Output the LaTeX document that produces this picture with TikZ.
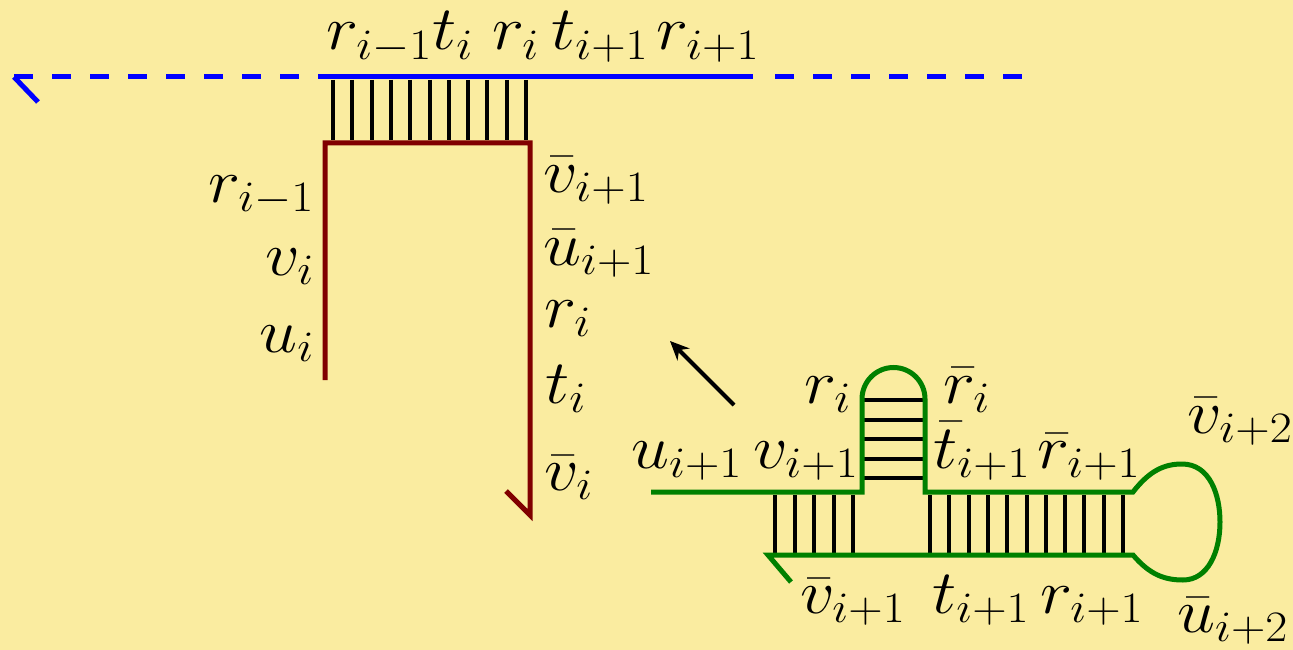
\RequirePackage{fix-cm}
\documentclass[tikz,border=0pt]{standalone}
\usepackage{graphicx}
\usetikzlibrary{arrows.meta}
\definecolor{bg}{RGB}{250,236,160}
\definecolor{dred}{RGB}{128,0,0}
\definecolor{dgreen}{RGB}{0,128,0}
\newcommand{\wm}[1]{\scalebox{1.1}[1]{$#1$}}
\begin{document}
\begin{tikzpicture}[x=1pt,y=-1pt,
  lab/.style={inner sep=0pt, font=\fontsize{62}{66}\selectfont},
  lw/.style={lab, anchor=base west},
  le/.style={lab, anchor=base east},
  bluestrand/.style={draw=blue, line width=5pt},
  redstrand/.style={draw=dred, line width=5pt},
  greenstrand/.style={draw=dgreen, line width=5pt},
  rung/.style={draw=black, line width=4pt},
  pointer/.style={draw=black, line width=4pt, -{Stealth[length=19pt,width=17pt]}}]
\fill[bg] (0,0) rectangle (1293,650);
\useasboundingbox (0,0) rectangle (1293,650);

% blue strand
\draw[bluestrand, dash pattern=on 19pt off 19pt] (14,77) -- (318,77);
\draw[bluestrand] (14,77) -- (38,102);
\draw[bluestrand] (318,77) -- (753,77);
\draw[bluestrand, dash pattern=on 19pt off 19pt] (775,77) -- (1025,77);

% top rungs
\foreach \i in {0,...,10} \draw[rung] ({333+19.3*\i},80) -- ({333+19.3*\i},140);

% red strand
\draw[redstrand] (325,380) -- (325,143) -- (530,143) -- (530,515) -- (506,491);

% top labels
\node[lw] (t1) at (326,50) {\wm{r_{i-1}}};
\node[lw] (t2) at (432,50) {\wm{t_i}};
\node[lw] (t3) at (492,50) {\wm{r_i}};
\node[lw] (t4) at (551,50) {\wm{t_{i+1}}};
\node[lw] (t5) at (656,50) {\wm{r_{i+1}}};

% left labels
\node[le] (l1) at (314,202) {\wm{r_{i-1}}};
\node[le] (l2) at (314,275) {\wm{v_i}};
\node[le] (l3) at (314,352) {\wm{u_i}};

% right labels
\node[lw] (r1) at (543,192) {\wm{\bar v_{i+1}}};
\node[lw] (r2) at (543,265) {\wm{\bar u_{i+1}}};
\node[lw] (r3) at (544,327) {\wm{r_i}};
\node[lw] (r4) at (545,403) {\wm{t_i}};
\node[lw] (r5) at (544,490) {\wm{\bar v_i}};

% arrow
\coordinate (a1) at (734,405);
\coordinate (a2) at (670,341);
\draw[pointer] (a1) -- (a2);

% green rungs
\foreach \i in {0,...,4} \draw[rung] ({775+19.5*\i},495) -- ({775+19.5*\i},553);
\foreach \i in {0,...,10} \draw[rung] ({930+19.3*\i},495) -- ({930+19.3*\i},553);
\foreach \i in {0,...,4} \draw[rung] (864,{400+19.5*\i}) -- (923,{400+19.5*\i});

% green strand
\draw[greenstrand] (651,492) -- (862,492) -- (862,399) arc (180:360:31.5) -- (925,492) -- (1133,492)
  .. controls (1150,470) and (1165,464) .. (1182,464)
  .. controls (1210,464) and (1220,495) .. (1220,522)
  .. controls (1220,552) and (1208,580) .. (1183,580)
  .. controls (1165,580) and (1150,575) .. (1133,555)
  -- (768,555) -- (791,582);

% green labels
\node[lw] (g1) at (631,468) {\wm{u_{i+1}}};
\node[lw] (g2) at (753,468) {\wm{v_{i+1}}};
\node[lw] (g3) at (804,403) {\wm{r_i}};
\node[lw] (g4) at (943,403) {\wm{\bar r_i}};
\node[lw] (g5) at (933,468) {\wm{\bar t_{i+1}}};
\node[lw] (g6) at (1037,468) {\wm{\bar r_{i+1}}};
\node[lw] (g7) at (1187,433) {\wm{\bar v_{i+2}}};
\node[lw] (g8) at (800,613) {\wm{\bar v_{i+1}}};
\node[lw] (g9) at (932,613) {\wm{t_{i+1}}};
\node[lw] (g10) at (1040,613) {\wm{r_{i+1}}};
\node[lw] (g11) at (1177,632) {\wm{\bar u_{i+2}}};
\end{tikzpicture}
\end{document}
